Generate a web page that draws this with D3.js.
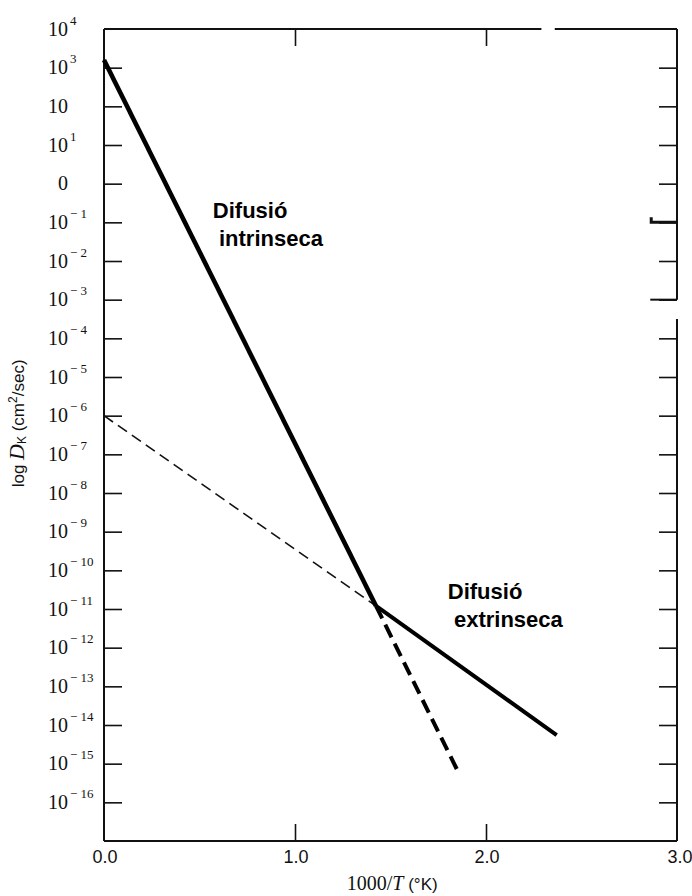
<!DOCTYPE html>
<html>
<head>
<meta charset="utf-8">
<script src="https://cdn.jsdelivr.net/npm/d3@7"></script>
<style>
  body { margin: 0; background: #fff; }
  svg { display: block; }
  .frame, .tick line { stroke: #111; }
  .domain { display: none; }
</style>
</head>
<body>
<div id="chart"></div>
<script>
// Arrhenius plot of diffusion: log D vs 1000/T

// axis values (y is the exponent of D)
var xTicks = [0, 1, 2, 3];
var xTickLabels = ["0.0", "1.0", "2.0", "3.0"];
var yTicks = [4, 3, 2, 1, 0, -1, -2, -3, -4, -5, -6, -7, -8, -9, -10, -11, -12, -13, -14, -15, -16];
// labels as printed in the original figure (base, superscript)
var yTickBase = ["10", "10", "10", "10", "0", "10", "10", "10", "10", "10", "10", "10", "10", "10", "10", "10", "10", "10", "10", "10", "10"];
var yTickExp = ["4", "3", "", "1", "", "− 1", "− 2", "− 3", "− 4", "− 5", "− 6", "− 7", "− 8", "− 9", "− 10", "− 11", "− 12", "− 13", "− 14", "− 15", "− 16"];

// lines, [1000/T, log D]
var intrinsic = [[0, 3.2], [1.424, -10.92]];
var intrinsicExt = [[1.424, -10.92], [1.86, -15.27]];
var extrinsic = [[1.424, -10.92], [2.37, -14.26]];
var extrinsicExt = [[0, -6.0], [1.424, -10.92]];

// text labels
var notes = [
    { x: 0.57, y: -0.9, lines: ["Difusió", " intrinseca"] },
    { x: 1.80, y: -10.75, lines: ["Difusió", " extrinseca"] }
];

var margin = { top: 29, right: 15, bottom: 55, left: 104 },
    width = 692 - margin.left - margin.right,
    height = 896 - margin.top - margin.bottom;

var svg = d3.select("#chart").append("svg")
    .attr("width", 692)
    .attr("height", 896)
    .append("g")
    .attr("transform", "translate(" + margin.left + "," + margin.top + ")");

var x = d3.scaleLinear().domain([0, 3]).range([0, width]);
var y = d3.scaleLinear().domain([-17, 4]).range([height, 0]);

// ticks, all pointing inside the frame
svg.append("g")
    .call(d3.axisLeft(y).tickValues(yTicks.slice(1)).tickSize(-18).tickFormat(""))
    .selectAll("line").attr("stroke-width", 1.6);
svg.append("g")
    .attr("transform", "translate(" + width + ",0)")
    .call(d3.axisRight(y).tickValues(yTicks.slice(1)).tickSize(-18).tickFormat(""))
    .selectAll("line").attr("stroke-width", 1.6);
svg.append("g")
    .attr("transform", "translate(0," + height + ")")
    .call(d3.axisBottom(x).tickValues([1, 2]).tickSize(-17).tickFormat(""))
    .selectAll("line").attr("stroke-width", 1.6);
svg.append("g")
    .call(d3.axisTop(x).tickValues([1, 2]).tickSize(-17).tickFormat(""))
    .selectAll("line").attr("stroke-width", 1.6);

// frame, with the breaks seen in the scanned figure
var frame = svg.append("g").attr("class", "frame")
    .attr("stroke-width", 2).attr("fill", "none");
frame.append("line").attr("x1", 0).attr("y1", 0).attr("x2", 0).attr("y2", height);
frame.append("line").attr("x1", 0).attr("y1", height).attr("x2", width).attr("y2", height);
frame.append("line").attr("x1", 0).attr("y1", 0).attr("x2", x(2.29)).attr("y2", 0);
frame.append("line").attr("x1", x(2.36)).attr("y1", 0).attr("x2", width).attr("y2", 0);
frame.append("line").attr("x1", width).attr("y1", 0).attr("x2", width).attr("y2", y(-3));
frame.append("line").attr("x1", width).attr("y1", y(-3.5)).attr("x2", width).attr("y2", height);
frame.append("line").attr("x1", x(2.86)).attr("y1", y(-3)).attr("x2", width).attr("y2", y(-3));
frame.append("path")
    .attr("d", "M" + x(2.865) + "," + (y(-1) - 5) + "V" + y(-1) + "H" + width)
    .attr("stroke-width", 3);

// tick labels
var yl = svg.append("g").attr("font-family", "'Liberation Serif', serif").attr("fill", "#111");
yTicks.forEach(function (v, i) {
    yl.append("text")
        .attr("x", -36).attr("y", y(v) + 6.5)
        .attr("text-anchor", "end")
        .attr("font-size", 20)
        .text(yTickBase[i]);
    if (yTickExp[i]) {
        yl.append("text")
            .attr("x", -34).attr("y", y(v) - 4.5)
            .attr("font-size", 13)
            .text(yTickExp[i]);
    }
});

svg.append("g").selectAll("text")
    .data(xTicks)
    .enter().append("text")
    .attr("x", function (d) { return x(d) + (d == 3 ? 3 : 1); })
    .attr("y", height + 22)
    .attr("text-anchor", "middle")
    .attr("font-family", "'Liberation Sans', sans-serif")
    .attr("font-size", 18)
    .attr("fill", "#111")
    .text(function (d, i) { return xTickLabels[i]; });

// axis titles
var xt = svg.append("text")
    .attr("x", width * 0.503).attr("y", height + 49)
    .attr("text-anchor", "middle")
    .attr("fill", "#111");
xt.append("tspan").attr("font-family", "'Liberation Serif', serif").attr("font-size", 20).text("1000/");
xt.append("tspan").attr("font-family", "'Liberation Serif', serif").attr("font-style", "italic").attr("font-size", 20).text("T");
xt.append("tspan").attr("font-family", "'Liberation Sans', sans-serif").attr("font-size", 17).text(" (°K)");

var yt = svg.append("text")
    .attr("transform", "translate(" + (-80) + "," + (y(-6.2)) + ") rotate(-90)")
    .attr("text-anchor", "middle")
    .attr("font-family", "'Liberation Sans', sans-serif")
    .attr("font-size", 17)
    .attr("fill", "#111");
yt.append("tspan").text("log ");
yt.append("tspan").attr("font-family", "'Liberation Serif', serif").attr("font-style", "italic").attr("font-size", 22).text("D");
yt.append("tspan").attr("font-size", 12).attr("dy", 2).text("K");
yt.append("tspan").attr("dy", -2).text(" (cm");
yt.append("tspan").attr("font-size", 12).attr("dy", -7).text("2");
yt.append("tspan").attr("dy", 7).text("/sec)");

// lines
var line = d3.line()
    .x(function (d) { return x(d[0]); })
    .y(function (d) { return y(d[1]); });

svg.append("path").datum(extrinsicExt)
    .attr("d", line).attr("fill", "none").attr("stroke", "#111")
    .attr("stroke-width", 1.6).attr("stroke-dasharray", "11,6");
svg.append("path").datum(intrinsicExt)
    .attr("d", line).attr("fill", "none").attr("stroke", "#000")
    .attr("stroke-width", 4).attr("stroke-dasharray", "14,7");
svg.append("path").datum(intrinsic)
    .attr("d", line).attr("fill", "none").attr("stroke", "#000")
    .attr("stroke-width", 4.6).attr("stroke-linejoin", "round");
svg.append("path").datum(extrinsic)
    .attr("d", line).attr("fill", "none").attr("stroke", "#000")
    .attr("stroke-width", 4).attr("stroke-linejoin", "round");

// annotations
notes.forEach(function (n) {
    var t = svg.append("text")
        .attr("x", x(n.x)).attr("y", y(n.y))
        .attr("font-family", "'Liberation Sans', Arial, sans-serif")
        .attr("font-weight", "bold")
        .attr("font-size", 22)
        .attr("fill", "#000")
        .attr("xml:space", "preserve")
        .style("white-space", "pre");
    n.lines.forEach(function (s, i) {
        t.append("tspan").attr("x", x(n.x)).attr("dy", i ? 28 : 0).text(s);
    });
});
</script>
</body>
</html>
